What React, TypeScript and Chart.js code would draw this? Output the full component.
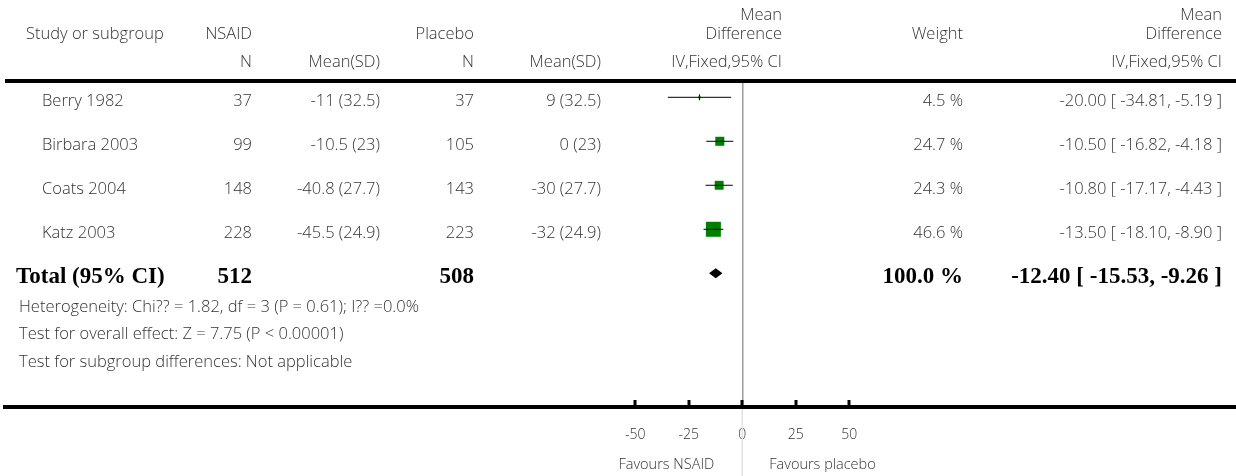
import React, { useEffect, useRef } from 'react';
import { Chart, registerables } from 'chart.js';

Chart.register(...registerables);

// Study rows
const studies = ['Berry 1982', 'Birbara 2003', 'Coats 2004', 'Katz 2003'];
const nsaidN = [37, 99, 148, 228];
const nsaidMeanSD = ['-11 (32.5)', '-10.5 (23)', '-40.8 (27.7)', '-45.5 (24.9)'];
const placeboN = [37, 105, 143, 223];
const placeboMeanSD = ['9 (32.5)', '0 (23)', '-30 (27.7)', '-32 (24.9)'];
const meanDiff = [-20.0, -10.5, -10.8, -13.5];
const ciLow = [-34.81, -16.82, -17.17, -18.1];
const ciHigh = [-5.19, -4.18, -4.43, -8.9];
const weights = [4.5, 24.7, 24.3, 46.6];

// Pooled result
const totalLabel = 'Total (95% CI)';
const totalN = [512, 508];
const totalWeight = 100.0;
const totalMD = -12.4;
const totalLow = -15.53;
const totalHigh = -9.26;

// Axis
const axisTicks = [-50, -25, 0, 25, 50];
const favoursLabels = ['Favours NSAID', 'Favours placebo'];

const footnotes = [
  'Heterogeneity: Chi?? = 1.82, df = 3 (P = 0.61); I?? =0.0%',
  'Test for overall effect: Z = 7.75 (P < 0.00001)',
  'Test for subgroup differences: Not applicable',
];

const W = 1236;
const H = 476;
const SANS = '"Open Sans", Lato, sans-serif';
const TEXT = '#333';

const fmt2 = (v: number) => v.toFixed(2);
const ciText = (m: number, lo: number, hi: number) => `${fmt2(m)} [ ${fmt2(lo)}, ${fmt2(hi)} ]`;

const tablePlugin = {
  id: 'forestTable',
  afterDraw(chart: any) {
    const { ctx } = chart;
    const xs = chart.scales.x;
    const ys = chart.scales.y;
    const area = chart.chartArea;
    const zeroX = xs.getPixelForValue(0);

    ctx.save();

    // lighter continuation of the null line below the axis
    ctx.strokeStyle = '#e2e2e2';
    ctx.lineWidth = 1.5;
    ctx.beginPath();
    ctx.moveTo(zeroX, area.bottom + 2);
    ctx.lineTo(zeroX, H);
    ctx.stroke();

    // tick marks rising from the axis
    ctx.fillStyle = '#000';
    axisTicks.forEach((v) => {
      const px = xs.getPixelForValue(v);
      ctx.fillRect(Math.round(px) - 1.5, area.bottom - 7, 3, 7);
    });

    // top rule under the header
    ctx.fillRect(5, 79, W - 5, 4);

    // pooled diamond
    const ty = ys.getPixelForValue(4);
    const lx = xs.getPixelForValue(totalLow);
    const mx = xs.getPixelForValue(totalMD);
    const hx = xs.getPixelForValue(totalHigh);
    ctx.beginPath();
    ctx.moveTo(lx, ty);
    ctx.lineTo(mx, ty - 5);
    ctx.lineTo(hx, ty);
    ctx.lineTo(mx, ty + 5);
    ctx.closePath();
    ctx.fill();

    const text = (s: string, x: number, y: number, align: CanvasTextAlign, font: string, color = TEXT) => {
      ctx.font = font;
      ctx.fillStyle = color;
      ctx.textAlign = align;
      ctx.textBaseline = 'middle';
      ctx.fillText(s, x, y);
    };
    const f = `300 16.5px ${SANS}`;

    // header
    text('Mean', 782, 15, 'right', f);
    text('Mean', 1222, 15, 'right', f);
    text('Study or subgroup', 26, 34, 'left', f);
    text('NSAID', 252, 34, 'right', f);
    text('Placebo', 474, 34, 'right', f);
    text('Difference', 782, 34, 'right', f);
    text('Weight', 963, 34, 'right', f);
    text('Difference', 1222, 34, 'right', f);
    text('N', 252, 62, 'right', f);
    text('Mean(SD)', 380, 62, 'right', f);
    text('N', 474, 62, 'right', f);
    text('Mean(SD)', 601, 62, 'right', f);
    text('IV,Fixed,95% CI', 782, 62, 'right', f);
    text('IV,Fixed,95% CI', 1222, 62, 'right', f);

    // study rows
    studies.forEach((name, i) => {
      const y = ys.getPixelForValue(i) + 4;
      text(name, 42, y, 'left', f);
      text(String(nsaidN[i]), 252, y, 'right', f);
      text(nsaidMeanSD[i], 380, y, 'right', f);
      text(String(placeboN[i]), 474, y, 'right', f);
      text(placeboMeanSD[i], 601, y, 'right', f);
      text(`${weights[i].toFixed(1)} %`, 963, y, 'right', f);
      text(ciText(meanDiff[i], ciLow[i], ciHigh[i]), 1222, y, 'right', f);
    });

    // total row
    const bf = 'bold 23px "Liberation Serif", serif';
    const by = ty + 4;
    text(totalLabel, 16, by, 'left', bf, '#000');
    text(String(totalN[0]), 252, by, 'right', bf, '#000');
    text(String(totalN[1]), 474, by, 'right', bf, '#000');
    text(`${totalWeight.toFixed(1)} %`, 963, by, 'right', bf, '#000');
    text(ciText(totalMD, totalLow, totalHigh), 1222, by, 'right', bf, '#000');

    // footnotes
    footnotes.forEach((s, i) => text(s, 19, 307 + i * 27.5, 'left', f));

    // favours labels
    text(favoursLabels[0], zeroX - 28, 465, 'right', `300 14.5px ${SANS}`);
    text(favoursLabels[1], zeroX + 27, 465, 'left', `300 14.5px ${SANS}`);

    ctx.restore();
  },
};

export default function App() {
  const ref = useRef<HTMLCanvasElement | null>(null);

  useEffect(() => {
    if (!ref.current) return;

    const ciSets = studies.map((_, i) => ({
      type: 'line' as const,
      data: [
        { x: ciLow[i], y: i },
        { x: ciHigh[i], y: i },
      ],
      borderColor: '#000',
      borderWidth: 1,
      pointRadius: 0,
      showLine: true,
      fill: false,
    }));

    // square side grows with study weight
    const boxRadius = weights.map((w) => (15 * Math.pow(w / 46.6, 0.8)) / Math.SQRT2);

    const chart = new Chart(ref.current, {
      type: 'scatter',
      data: {
        datasets: [
          ...ciSets,
          {
            type: 'scatter',
            data: meanDiff.map((m, i) => ({ x: m, y: i })),
            pointStyle: 'rect',
            pointRadius: boxRadius,
            backgroundColor: '#008000',
            borderWidth: 0,
          },
          {
            type: 'scatter',
            data: meanDiff.map((m, i) => ({ x: m, y: i })),
            pointStyle: 'line',
            rotation: 90,
            pointRadius: 3,
            borderColor: '#000',
            borderWidth: 1,
          },
        ],
      } as any,
      options: {
        animation: false,
        responsive: false,
        events: [],
        layout: { autoPadding: false, padding: { left: 5, right: 0, top: 83, bottom: 0 } },
        plugins: { legend: { display: false }, tooltip: { enabled: false } },
        scales: {
          x: {
            type: 'linear',
            min: -344.5,
            max: 230.7,
            afterBuildTicks: (s: any) => {
              s.ticks = axisTicks.map((v) => ({ value: v }));
            },
            afterFit: (s: any) => {
              s.height = 69;
              s.paddingLeft = 0;
              s.paddingRight = 0;
            },
            grid: {
              drawOnChartArea: true,
              drawTicks: false,
              lineWidth: 1.5,
              color: (c: any) => (c.tick && c.tick.value === 0 ? '#9c9c9c' : 'transparent'),
            },
            border: { display: true, color: '#000', width: 4 },
            ticks: {
              autoSkip: false,
              maxRotation: 0,
              padding: 20,
              color: TEXT,
              font: { family: SANS, size: 14, weight: '300' },
              callback: (v: any) => String(v),
            },
          },
          y: { type: 'linear', display: false, min: -0.325, max: 7.04, reverse: true },
        },
      } as any,
      plugins: [tablePlugin],
    });

    return () => chart.destroy();
  }, []);

  return (
    <div style={{ position: 'fixed', left: 0, top: 0, width: W, height: H, background: '#fff' }}>
      <canvas ref={ref} width={W} height={H} style={{ display: 'block', width: W, height: H }} />
    </div>
  );
}
